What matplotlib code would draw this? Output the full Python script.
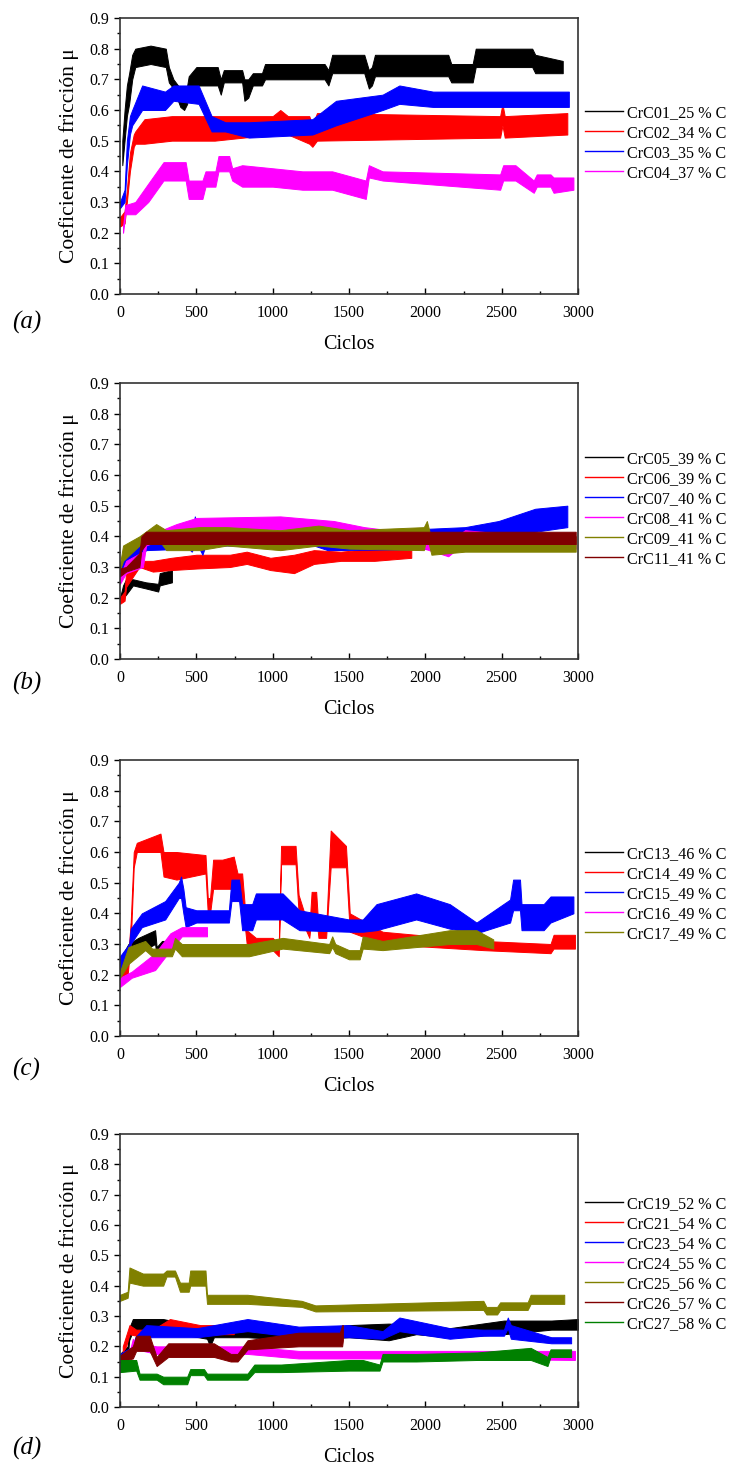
import matplotlib
matplotlib.use("Agg")
import matplotlib.pyplot as plt
from matplotlib.lines import Line2D
from matplotlib.ticker import MultipleLocator

plt.rcParams["font.family"] = ["Liberation Serif", "DejaVu Serif"]

# ---------------- panel (a) ----------------
A_LABELS = ["CrC01_25 % C", "CrC02_34 % C", "CrC03_35 % C", "CrC04_37 % C"]
A_COLORS = ["#000000", "#ff0000", "#0000ff", "#ff00ff"]

A1_X = [15, 30, 45, 60, 80, 100, 200, 300, 320, 350, 395, 420, 440, 450, 500, 640, 660, 680, 800, 815,
        840, 870, 930, 950, 1340, 1365, 1390, 1600, 1630, 1650, 1670, 2150, 2170, 2310, 2330, 2700, 2720, 2900]
A1_LO = [0.42, 0.50, 0.58, 0.62, 0.70, 0.74, 0.75, 0.74, 0.69, 0.67, 0.61, 0.60, 0.62, 0.67, 0.68, 0.68, 0.65, 0.69, 0.69, 0.63,
         0.64, 0.68, 0.68, 0.70, 0.70, 0.68, 0.72, 0.72, 0.67, 0.68, 0.71, 0.71, 0.69, 0.69, 0.74, 0.74, 0.72, 0.72]
A1_HI = [0.50, 0.60, 0.68, 0.72, 0.78, 0.80, 0.81, 0.80, 0.74, 0.70, 0.67, 0.66, 0.68, 0.71, 0.74, 0.74, 0.70, 0.73, 0.73, 0.70,
         0.70, 0.72, 0.72, 0.75, 0.75, 0.73, 0.78, 0.78, 0.73, 0.74, 0.78, 0.78, 0.75, 0.75, 0.80, 0.80, 0.78, 0.76]

A2_X = [0, 30, 45, 65, 90, 100, 160, 340, 620, 1000, 1050, 1100, 1240, 1260, 1290, 2490, 2505, 2520, 2930]
A2_LO = [0.22, 0.23, 0.30, 0.40, 0.48, 0.49, 0.49, 0.50, 0.50, 0.52, 0.55, 0.52, 0.49, 0.48, 0.50, 0.51, 0.55, 0.51, 0.52]
A2_HI = [0.25, 0.27, 0.34, 0.46, 0.52, 0.53, 0.57, 0.58, 0.58, 0.58, 0.60, 0.58, 0.58, 0.55, 0.59, 0.58, 0.62, 0.58, 0.59]

A3_X = [0, 30, 45, 65, 80, 145, 295, 350, 515, 600, 690, 845, 1260, 1415, 1720, 1830, 2050, 2940]
A3_LO = [0.28, 0.30, 0.42, 0.52, 0.55, 0.60, 0.60, 0.63, 0.62, 0.53, 0.53, 0.51, 0.52, 0.55, 0.60, 0.62, 0.61, 0.61]
A3_HI = [0.30, 0.34, 0.50, 0.58, 0.60, 0.68, 0.66, 0.68, 0.68, 0.58, 0.56, 0.56, 0.57, 0.63, 0.65, 0.68, 0.66, 0.66]

A4_X = [20, 35, 100, 185, 285, 430, 450, 540, 560, 625, 645, 715, 735, 800, 1000, 1195, 1390, 1610, 1630, 1720,
        2490, 2510, 2590, 2710, 2730, 2820, 2840, 2970]
A4_LO = [0.20, 0.26, 0.26, 0.30, 0.37, 0.37, 0.31, 0.31, 0.35, 0.35, 0.40, 0.40, 0.37, 0.35, 0.35, 0.34, 0.34, 0.31, 0.38, 0.37,
         0.34, 0.37, 0.37, 0.33, 0.35, 0.35, 0.33, 0.34]
A4_HI = [0.22, 0.29, 0.30, 0.36, 0.43, 0.43, 0.37, 0.37, 0.40, 0.40, 0.45, 0.45, 0.41, 0.42, 0.41, 0.40, 0.40, 0.37, 0.42, 0.40,
         0.39, 0.42, 0.42, 0.37, 0.39, 0.39, 0.38, 0.38]

# ---------------- panel (b) ----------------
B_LABELS = ["CrC05_39 % C", "CrC06_39 % C", "CrC07_40 % C", "CrC08_41 % C", "CrC09_41 % C", "CrC11_41 % C"]
B_COLORS = ["#000000", "#ff0000", "#0000ff", "#ff00ff", "#808000", "#800000"]

B1_X = [0, 20, 40, 85, 170, 250, 260, 340]
B1_LO = [0.19, 0.20, 0.21, 0.24, 0.23, 0.22, 0.24, 0.25]
B1_HI = [0.20, 0.24, 0.26, 0.26, 0.25, 0.245, 0.28, 0.29]

B2_X = [0, 30, 40, 127, 215, 336, 500, 720, 830, 985, 1140, 1270, 1446, 1666, 1908]
B2_LO = [0.18, 0.19, 0.235, 0.30, 0.285, 0.29, 0.295, 0.30, 0.31, 0.29, 0.28, 0.31, 0.32, 0.32, 0.33]
B2_HI = [0.20, 0.22, 0.285, 0.32, 0.32, 0.33, 0.34, 0.34, 0.35, 0.33, 0.34, 0.355, 0.35, 0.36, 0.36]

B3_X = [0, 40, 171, 450, 470, 490, 510, 540, 560, 1270, 1360, 2260, 2480, 2720, 2930]
B3_LO = [0.26, 0.29, 0.355, 0.36, 0.35, 0.37, 0.37, 0.34, 0.37, 0.37, 0.355, 0.36, 0.39, 0.415, 0.43]
B3_HI = [0.30, 0.37, 0.40, 0.40, 0.40, 0.465, 0.43, 0.40, 0.43, 0.43, 0.41, 0.43, 0.45, 0.49, 0.50]

B4_X = [0, 40, 150, 171, 370, 500, 1050, 1400, 1600, 1930, 2150, 2260, 2700, 2985]
B4_LO = [0.245, 0.28, 0.30, 0.37, 0.41, 0.42, 0.42, 0.41, 0.40, 0.37, 0.335, 0.38, 0.355, 0.36]
B4_HI = [0.27, 0.32, 0.35, 0.40, 0.44, 0.46, 0.465, 0.45, 0.43, 0.41, 0.38, 0.42, 0.40, 0.40]

B5_X = [0, 20, 127, 237, 303, 520, 700, 1050, 1300, 1500, 1990, 2010, 2040, 2260, 2810, 2985]
B5_LO = [0.29, 0.32, 0.37, 0.40, 0.355, 0.355, 0.37, 0.355, 0.37, 0.36, 0.355, 0.40, 0.34, 0.35, 0.35, 0.35]
B5_HI = [0.31, 0.37, 0.40, 0.44, 0.42, 0.43, 0.43, 0.42, 0.435, 0.42, 0.43, 0.45, 0.39, 0.40, 0.41, 0.40]

B6_X = [0, 40, 127, 140, 171, 2985]
B6_LO = [0.27, 0.285, 0.30, 0.355, 0.375, 0.375]
B6_HI = [0.295, 0.30, 0.345, 0.40, 0.415, 0.415]

# ---------------- panel (c) ----------------
C_LABELS = ["CrC13_46 % C", "CrC14_49 % C", "CrC15_49 % C", "CrC16_49 % C", "CrC17_49 % C"]
C_COLORS = ["#000000", "#ff0000", "#0000ff", "#ff00ff", "#808000"]

C1_X = [0, 55, 120, 230, 240, 275, 330]
C1_LO = [0.20, 0.25, 0.27, 0.30, 0.26, 0.26, 0.27]
C1_HI = [0.25, 0.30, 0.32, 0.345, 0.29, 0.31, 0.31]

C2_X = [0, 50, 70, 90, 110, 265, 285, 370, 560, 575, 590, 610, 670, 745, 770, 800, 830, 890, 1000, 1040,
        1055, 1150, 1170, 1240, 1255, 1285, 1300, 1350, 1380, 1480, 1505, 1720, 2380, 2820, 2840, 2980]
C2_LO = [0.17, 0.20, 0.30, 0.55, 0.60, 0.60, 0.52, 0.51, 0.53, 0.40, 0.40, 0.48, 0.48, 0.48, 0.44, 0.44, 0.30, 0.30, 0.28, 0.26,
         0.56, 0.56, 0.40, 0.32, 0.39, 0.39, 0.32, 0.32, 0.55, 0.55, 0.34, 0.30, 0.28, 0.27, 0.285, 0.285]
C2_HI = [0.215, 0.24, 0.37, 0.60, 0.63, 0.66, 0.60, 0.60, 0.59, 0.45, 0.45, 0.575, 0.575, 0.585, 0.53, 0.53, 0.345, 0.32, 0.32, 0.30,
         0.62, 0.62, 0.46, 0.35, 0.47, 0.47, 0.35, 0.35, 0.67, 0.62, 0.40, 0.34, 0.31, 0.30, 0.33, 0.33]

C3_X = [0, 60, 70, 143, 296, 385, 400, 415, 430, 500, 625, 713, 730, 780, 800, 866, 890, 1065, 1175, 1500,
        1590, 1680, 1940, 2160, 2335, 2555, 2575, 2620, 2630, 2775, 2820, 2970]
C3_LO = [0.215, 0.26, 0.30, 0.355, 0.38, 0.45, 0.45, 0.40, 0.355, 0.37, 0.37, 0.37, 0.44, 0.44, 0.345, 0.345, 0.38, 0.38, 0.345, 0.34,
         0.34, 0.345, 0.38, 0.35, 0.335, 0.37, 0.41, 0.41, 0.345, 0.345, 0.37, 0.40]
C3_HI = [0.26, 0.30, 0.35, 0.40, 0.44, 0.50, 0.52, 0.48, 0.42, 0.41, 0.41, 0.41, 0.51, 0.51, 0.43, 0.43, 0.465, 0.465, 0.41, 0.38,
         0.38, 0.43, 0.465, 0.43, 0.37, 0.445, 0.51, 0.51, 0.43, 0.43, 0.455, 0.455]

C4_X = [0, 77, 230, 330, 405, 570]
C4_LO = [0.16, 0.19, 0.215, 0.28, 0.325, 0.325]
C4_HI = [0.19, 0.21, 0.27, 0.335, 0.355, 0.355]

C5_X = [0, 55, 165, 210, 340, 360, 405, 845, 1065, 1370, 1390, 1410, 1500, 1570, 1590, 1720, 2160, 2335, 2445]
C5_LO = [0.19, 0.235, 0.28, 0.26, 0.26, 0.285, 0.26, 0.26, 0.285, 0.27, 0.29, 0.27, 0.25, 0.25, 0.285, 0.28, 0.30, 0.30, 0.285]
C5_HI = [0.21, 0.29, 0.31, 0.285, 0.285, 0.32, 0.30, 0.30, 0.32, 0.30, 0.325, 0.30, 0.28, 0.28, 0.325, 0.31, 0.345, 0.345, 0.315]

# ---------------- panel (d) ----------------
D_LABELS = ["CrC19_52 % C", "CrC21_54 % C", "CrC23_54 % C", "CrC24_55 % C", "CrC25_56 % C", "CrC26_57 % C", "CrC27_58 % C"]
D_COLORS = ["#000000", "#ff0000", "#0000ff", "#ff00ff", "#808000", "#800000", "#008000"]

D1_X = [0, 50, 60, 84, 283, 570, 590, 615, 835, 1170, 1500, 1760, 1940, 2160, 2515, 2825, 3000]
D1_LO = [0.15, 0.16, 0.22, 0.25, 0.25, 0.225, 0.20, 0.23, 0.23, 0.22, 0.23, 0.22, 0.24, 0.23, 0.24, 0.255, 0.255]
D1_HI = [0.175, 0.20, 0.26, 0.29, 0.29, 0.26, 0.24, 0.26, 0.26, 0.255, 0.27, 0.275, 0.27, 0.26, 0.285, 0.285, 0.29]

D2_X = [18, 40, 62, 106, 216, 327, 525, 745]
D2_LO = [0.18, 0.20, 0.24, 0.235, 0.235, 0.245, 0.24, 0.24]
D2_HI = [0.20, 0.235, 0.27, 0.255, 0.255, 0.29, 0.27, 0.27]

D3_X = [0, 84, 100, 172, 505, 835, 1170, 1500, 1720, 1830, 2160, 2380, 2515, 2540, 2560, 2825, 2955]
D3_LO = [0.15, 0.175, 0.21, 0.23, 0.23, 0.25, 0.23, 0.23, 0.225, 0.25, 0.225, 0.235, 0.235, 0.26, 0.225, 0.21, 0.21]
D3_HI = [0.175, 0.20, 0.23, 0.27, 0.26, 0.29, 0.265, 0.27, 0.25, 0.295, 0.26, 0.255, 0.255, 0.295, 0.27, 0.23, 0.23]

D4_X = [0, 62, 84, 106, 240, 835, 1170, 1500, 2160, 2980]
D4_LO = [0.14, 0.16, 0.20, 0.19, 0.175, 0.175, 0.16, 0.16, 0.16, 0.155]
D4_HI = [0.165, 0.18, 0.225, 0.21, 0.20, 0.20, 0.185, 0.185, 0.185, 0.185]

D5_X = [0, 50, 62, 150, 283, 305, 360, 393, 450, 460, 560, 570, 835, 1190, 1280, 2380, 2400, 2470, 2490, 2670, 2690, 2910]
D5_LO = [0.35, 0.36, 0.41, 0.40, 0.40, 0.43, 0.43, 0.38, 0.38, 0.40, 0.40, 0.34, 0.34, 0.33, 0.315, 0.32, 0.305, 0.305, 0.32, 0.32, 0.34, 0.34]
D5_HI = [0.37, 0.38, 0.46, 0.44, 0.44, 0.45, 0.45, 0.41, 0.41, 0.45, 0.45, 0.37, 0.37, 0.35, 0.335, 0.35, 0.33, 0.33, 0.345, 0.345, 0.37, 0.37]

D6_X = [0, 84, 106, 194, 240, 316, 615, 725, 770, 835, 1170, 1440, 1455, 1460]
D6_LO = [0.15, 0.16, 0.185, 0.185, 0.135, 0.165, 0.165, 0.15, 0.15, 0.19, 0.20, 0.20, 0.20, 0.22]
D6_HI = [0.17, 0.20, 0.235, 0.235, 0.165, 0.21, 0.21, 0.175, 0.175, 0.22, 0.245, 0.245, 0.27, 0.27]

D7_X = [0, 106, 128, 240, 283, 440, 460, 550, 570, 835, 880, 1055, 1500, 1590, 1700, 1720, 1940, 2340, 2690, 2800, 2820, 2955]
D7_LO = [0.115, 0.12, 0.09, 0.09, 0.075, 0.075, 0.105, 0.105, 0.09, 0.09, 0.115, 0.115, 0.12, 0.12, 0.12, 0.15, 0.15, 0.155, 0.155, 0.135, 0.165, 0.165]
D7_HI = [0.155, 0.155, 0.11, 0.11, 0.10, 0.10, 0.125, 0.125, 0.11, 0.11, 0.14, 0.14, 0.155, 0.155, 0.14, 0.175, 0.175, 0.18, 0.195, 0.165, 0.19, 0.19]

PANELS = [
    ("(a)", A_LABELS, A_COLORS, [(A1_X, A1_LO, A1_HI), (A2_X, A2_LO, A2_HI), (A3_X, A3_LO, A3_HI), (A4_X, A4_LO, A4_HI)]),
    ("(b)", B_LABELS, B_COLORS, [(B1_X, B1_LO, B1_HI), (B2_X, B2_LO, B2_HI), (B3_X, B3_LO, B3_HI),
                                 (B4_X, B4_LO, B4_HI), (B5_X, B5_LO, B5_HI), (B6_X, B6_LO, B6_HI)]),
    ("(c)", C_LABELS, C_COLORS, [(C1_X, C1_LO, C1_HI), (C2_X, C2_LO, C2_HI), (C3_X, C3_LO, C3_HI),
                                 (C4_X, C4_LO, C4_HI), (C5_X, C5_LO, C5_HI)]),
    ("(d)", D_LABELS, D_COLORS, [(D1_X, D1_LO, D1_HI), (D2_X, D2_LO, D2_HI), (D3_X, D3_LO, D3_HI), (D4_X, D4_LO, D4_HI),
                                 (D5_X, D5_LO, D5_HI), (D6_X, D6_LO, D6_HI), (D7_X, D7_LO, D7_HI)]),
]

W, H = 729, 1465
# axes boxes in pixels: top, bottom
BOXES = [(18, 294), (383, 659), (760, 1036), (1134, 1407)]
LEG_Y = [143, 509, 894, 1264]     # centre of legend (px)
TAG_Y = [322, 683, 1069, 1448]

fig = plt.figure(figsize=(W / 100, H / 100), dpi=100)

for (tag, labels, colors, series), (top, bot), ly, ty in zip(PANELS, BOXES, LEG_Y, TAG_Y):
    ax = fig.add_axes([120 / W, 1 - bot / H, (578 - 120) / W, (bot - top) / H])
    for (x, lo, hi), c in zip(series, colors):
        ax.fill_between(x, lo, hi, color=c, lw=0.7, edgecolor=c)

    ax.set_xlim(0, 3000)
    ax.set_ylim(0, 0.9)
    ax.xaxis.set_major_locator(MultipleLocator(500))
    ax.xaxis.set_minor_locator(MultipleLocator(250))
    ax.yaxis.set_major_locator(MultipleLocator(0.1))
    ax.yaxis.set_minor_locator(MultipleLocator(0.05))
    ax.yaxis.set_major_formatter(plt.FormatStrFormatter("%.1f"))
    ax.tick_params(axis="x", which="both", direction="in", top=False, labelsize=11.5, pad=8)
    ax.tick_params(axis="y", which="both", direction="out", right=False, labelsize=11.5)
    ax.tick_params(which="major", length=4.5, width=1)
    ax.tick_params(which="minor", length=2.5, width=1)
    for s in ax.spines.values():
        s.set_color("#333333")
        s.set_linewidth(1.2)

    ax.set_xlabel("Ciclos", fontsize=14.5, labelpad=10)
    ax.set_ylabel("Coeficiente de fricción μ", fontsize=15.5, labelpad=7)

    handles = [Line2D([], [], color=c, lw=1) for c in colors]
    ax.legend(handles, labels, loc="center left", frameon=False, fontsize=11.6,
              bbox_to_anchor=(1.0, 1 - (ly - top) / (bot - top)),
              handlelength=2.35, handletextpad=0.25, labelspacing=0.25, borderaxespad=0.05)

    fig.text(12 / W, 1 - ty / H, tag, fontsize=18, style="italic", va="center", ha="left")

fig.savefig("out.png", dpi=100)
